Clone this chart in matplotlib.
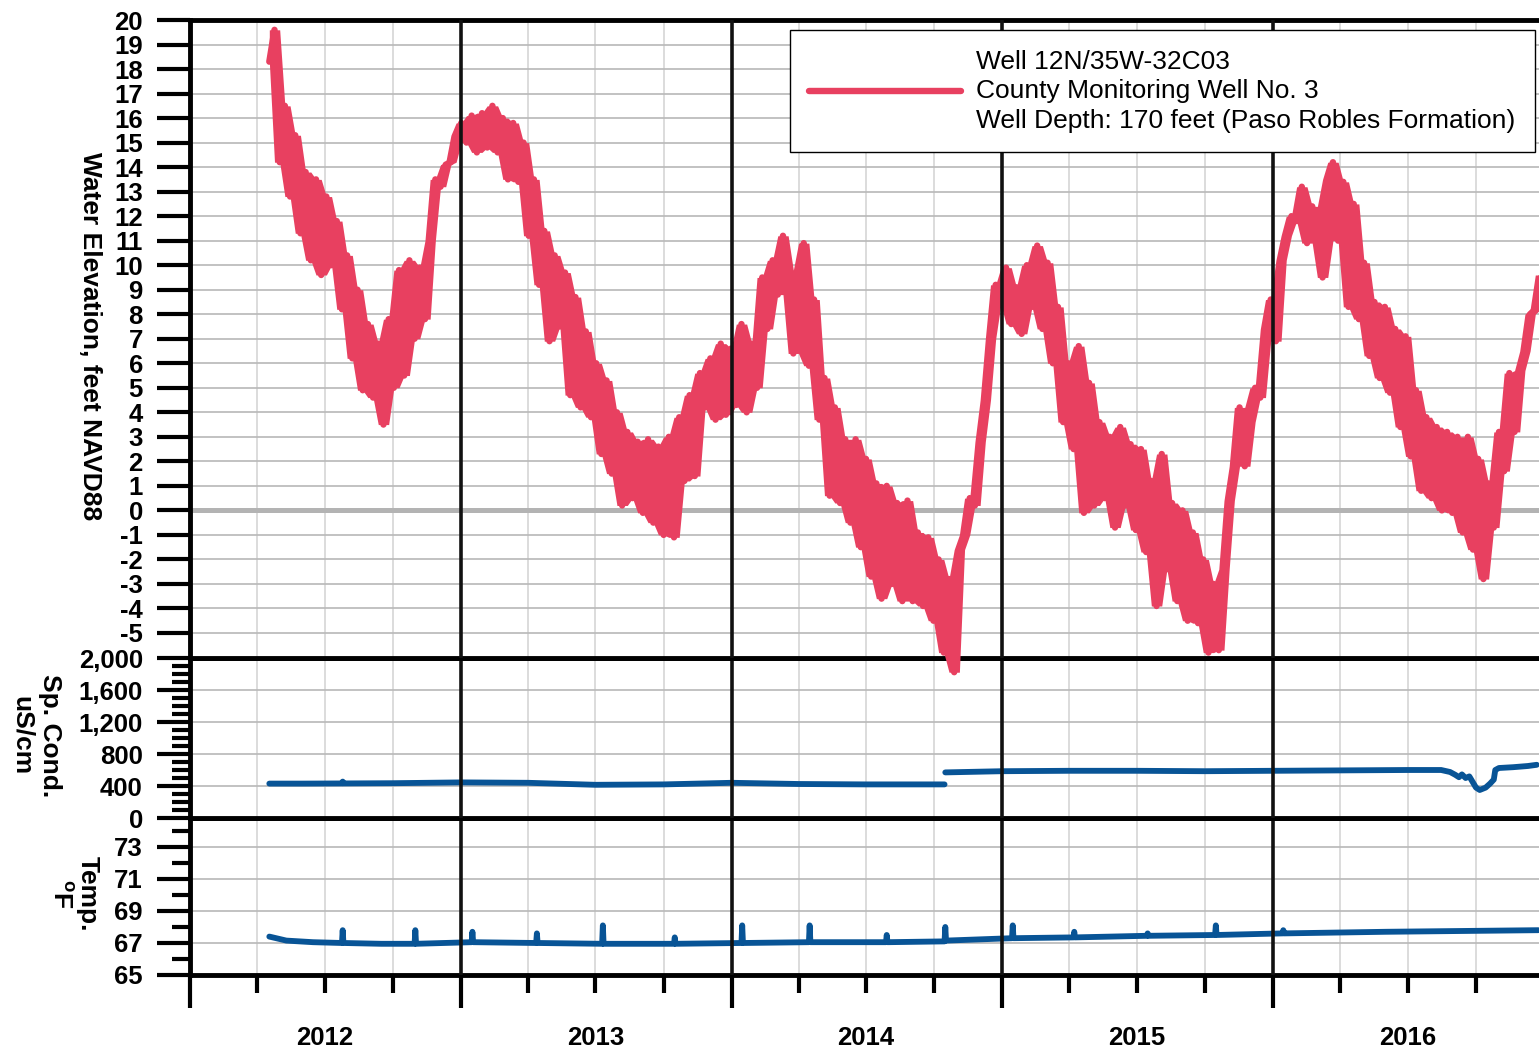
import pandas as pd
import matplotlib
matplotlib.use('Agg')
import matplotlib.pyplot as plt
import matplotlib.dates as mdates
from matplotlib.ticker import MultipleLocator, FixedLocator, FuncFormatter, StrMethodFormatter

plt.rcParams['font.family'] = ['Liberation Sans', 'DejaVu Sans']
plt.rcParams['font.weight'] = 'bold'
plt.rcParams['axes.unicode_minus'] = False
plt.rcParams['mathtext.fontset'] = 'custom'
plt.rcParams['mathtext.default'] = 'bf'
plt.rcParams['mathtext.bf'] = 'Liberation Sans:bold'

# ---------------- data ----------------
# water elevation, weekly readings from 2012-04-17 (feet NAVD88)
water_start = '2012-04-17'
water_ft = [
    18.3, 19.6, 14.2, 16.5, 12.8, 15.3, 11.3, 13.8, 10.2, 13.5,
    9.6, 12.8, 10.0, 11.8, 8.2, 10.4, 6.2, 9.0, 4.9, 7.6,
    4.6, 6.8, 3.5, 7.8, 5.0, 9.8, 5.5, 10.2, 7.0, 9.9,
    7.8, 11.0, 13.5, 13.2, 14.1, 14.2, 15.3, 15.8, 15.0, 16.1,
    14.6, 16.2, 14.8, 16.5, 14.6, 16.0, 13.5, 15.8, 13.4, 15.0,
    11.2, 13.5, 9.2, 11.4, 6.9, 10.4, 7.5, 9.7, 4.7, 8.7,
    4.2, 7.3, 3.8, 6.0, 2.3, 5.3, 1.5, 4.0, 0.2, 3.2,
    0.5, 2.8, -0.1, 2.9, -0.5, 2.6, -1.0, 3.0, -1.1, 3.8,
    1.2, 4.7, 1.4, 5.6, 4.2, 6.2, 3.7, 6.8, 3.9, 6.6,
    4.3, 7.6, 4.0, 6.8, 5.0, 9.5, 7.4, 10.2, 8.8, 11.2,
    9.4, 6.4, 9.8, 10.9, 5.9, 8.6, 3.7, 5.4, 0.6, 4.2,
    0.3, 2.9, -0.5, 2.9, -1.5, 2.1, -2.7, 1.1, -3.6, 1.0,
    -3.0, 0.3, -3.7, 0.4, -3.7, -0.9, -3.9, -1.1, -4.5, -2.0,
    -5.8, -2.8, -6.6, -1.6, -1.0, 0.5, 0.2, 2.8, 4.5, 7.0,
    9.2, 8.4, 9.9, 7.6, 9.1, 7.2, 10.0, 8.3, 10.8, 7.4,
    10.1, 6.0, 8.3, 3.6, 6.0, 2.5, 6.7, -0.1, 5.2, 0.2,
    3.6, 0.5, 3.0, -0.7, 3.4, 0.2, 2.7, -0.8, 2.5, -1.7,
    1.2, -3.9, 2.3, -2.4, 0.3, -3.7, 0.0, -4.5, -0.9, -4.6,
    -2.0, -5.8, -3.0, -5.7, -2.4, 0.4, 1.8, 4.2, 1.8, 3.6,
    5.0, 4.6, 7.4, 8.6, 6.9, 10.2, 11.2, 12.0, 11.8, 13.2,
    10.9, 12.4, 11.3, 9.5, 13.5, 14.2, 11.0, 13.4, 8.3, 12.5,
    7.8, 10.1, 6.3, 8.5, 5.4, 8.3, 4.8, 7.4, 3.4, 7.1,
    2.2, 4.9, 0.8, 3.8, 0.5, 3.4, 0.0, 3.2, -0.1, 3.0,
    -0.9, 3.0, -1.6, 2.1, -2.8, 1.1, -0.7, 3.2, 1.6, 5.6,
    3.2, 5.7, 6.5, 8.0, 8.2, 9.6,
]

# specific conductance, uS/cm (nan = break between sensor records)
cond_dates = ['2012-04-17', '2012-06-01', '2012-07-24', '2012-07-25', '2012-07-26',
              '2012-10-01', '2013-01-01', '2013-04-01', '2013-07-01', '2013-10-01',
              '2014-01-01', '2014-04-01', '2014-07-01', '2014-10-15', '2014-10-15',
              '2014-10-16', '2015-01-01', '2015-04-01', '2015-07-01', '2015-10-01',
              '2016-01-01', '2016-04-01', '2016-07-01', '2016-08-15', '2016-08-27',
              '2016-09-03', '2016-09-08', '2016-09-12', '2016-09-17', '2016-09-22',
              '2016-10-01', '2016-10-06', '2016-10-14', '2016-10-20', '2016-10-25',
              '2016-10-27', '2016-11-01', '2016-11-20', '2016-12-10', '2016-12-22']
cond_us = [430, 430, 432, 455, 432,
           435, 445, 440, 415, 420,
           440, 425, 420, 420, float('nan'),
           570, 585, 590, 590, 585,
           590, 595, 600, 600, 575,
           540, 510, 545, 500, 520,
           380, 350, 380, 430, 480,
           600, 625, 635, 650, 665]

# temperature, deg F
temp_dates = ['2012-04-17', '2012-05-10', '2012-06-15', '2012-07-24', '2012-07-25', '2012-07-26',
              '2012-09-15', '2012-10-30', '2012-10-31', '2012-11-01',
              '2013-01-15', '2013-01-16', '2013-01-17', '2013-04-12', '2013-04-13', '2013-04-14',
              '2013-07-10', '2013-07-11', '2013-07-12', '2013-10-15', '2013-10-16', '2013-10-17',
              '2014-01-14', '2014-01-15', '2014-01-16', '2014-04-15', '2014-04-16', '2014-04-17',
              '2014-07-28', '2014-07-29', '2014-07-30', '2014-10-15', '2014-10-16', '2014-10-17',
              '2015-01-14', '2015-01-15', '2015-01-16', '2015-04-07', '2015-04-08', '2015-04-09',
              '2015-07-15', '2015-07-16', '2015-07-17', '2015-10-15', '2015-10-16', '2015-10-17',
              '2016-01-14', '2016-01-15', '2016-01-16', '2016-06-01', '2016-12-24']
temp_f = [67.4, 67.15, 67.05, 67.0, 67.8, 67.0,
          66.95, 66.95, 67.8, 66.95,
          67.05, 67.7, 67.05, 67.0, 67.6, 67.0,
          66.95, 68.1, 66.95, 66.95, 67.35, 66.95,
          67.0, 68.1, 67.0, 67.05, 68.1, 67.05,
          67.05, 67.5, 67.05, 67.1, 68.0, 67.15,
          67.3, 68.1, 67.3, 67.35, 67.7, 67.35,
          67.45, 67.6, 67.45, 67.5, 68.1, 67.5,
          67.6, 67.8, 67.6, 67.7, 67.8]

legend_label = ('Well 12N/35W-32C03\nCounty Monitoring Well No. 3\n'
                'Well Depth: 170 feet (Paso Robles Formation)')

RED = '#E84060'
BLUE = '#085496'

water_dates = pd.date_range(water_start, periods=len(water_ft), freq='7D')
water_s = pd.Series(water_ft)
# the daily readings scatter densely between these two envelopes
water_hi = water_s.rolling(3, center=True, min_periods=1).max()
water_lo = water_s.rolling(3, center=True, min_periods=1).min()
cond_dt = pd.to_datetime(cond_dates)
temp_dt = pd.to_datetime(temp_dates)

# ---------------- figure ----------------
W, H = 1539, 1052
fig = plt.figure(figsize=(W / 100, H / 100), dpi=100)


def panel(top, bottom, **kw):
    return fig.add_axes([190 / W, 1 - bottom / H, 1 - 190 / W, (bottom - top) / H], **kw)


ax1 = panel(20, 658)
ax2 = panel(658, 818, sharex=ax1)
ax3 = panel(818, 975, sharex=ax1)
ax1.set_zorder(3)
ax2.set_zorder(2)
ax3.set_zorder(1)

ax1.set_xlim(pd.Timestamp('2012-01-01'), pd.Timestamp('2016-12-25'))
ax1.xaxis.set_major_locator(mdates.YearLocator())
ax1.xaxis.set_minor_locator(mdates.MonthLocator(bymonth=[1, 4, 7, 10]))

TICK_FS = 18.5
year_lines = pd.date_range('2013-01-01', '2016-01-01', freq='YS')
for ax in (ax1, ax2, ax3):
    for s in ('left', 'top', 'bottom'):
        ax.spines[s].set_linewidth(3.5)
    ax.spines['right'].set_visible(False)
    ax.set_axisbelow(True)
    ax.grid(which='minor', axis='x', color='#d2d2d2', lw=1.1)
    ax.grid(which='major', axis='y', color='#b8b8b8', lw=1.2)
    for d in year_lines:
        ax.axvline(d, color='#111111', lw=2.6, zorder=4)
    ax.tick_params(axis='y', which='major', length=24, width=3, direction='out',
                   labelsize=TICK_FS, pad=10)
    ax.tick_params(axis='y', which='minor', length=13, width=3, direction='out')

for ax in (ax1, ax2):
    ax.tick_params(axis='x', which='both', length=0, labelbottom=False)

# water elevation
ax1.axhline(0, color='#b3b3b3', lw=3.6, zorder=1)
ax1.fill_between(water_dates, water_lo, water_hi, color=RED, lw=0, zorder=3,
                 clip_on=False)
ax1.plot(water_dates, water_ft, color=RED, lw=4.6, solid_joinstyle='round',
         solid_capstyle='round', clip_on=False, label=legend_label, zorder=3)
ax1.set_ylim(-6.02, 20)
ax1.yaxis.set_major_locator(FixedLocator(range(-5, 21)))

leg = ax1.legend(loc='upper right', bbox_to_anchor=(1 - 4 / 1349, 1 - 10 / 638),
                 prop={'size': 19, 'weight': 'normal'}, frameon=True, fancybox=False,
                 edgecolor='black', framealpha=1, handlelength=5.75, handletextpad=0.57,
                 borderpad=0.74, borderaxespad=0)
leg.get_frame().set_linewidth(1.0)
for t in leg.get_texts():
    t.set_linespacing(1.3)
leg.set_zorder(10)

# conductance
ax2.plot(cond_dt, cond_us, color=BLUE, lw=4.2, solid_capstyle='round',
         solid_joinstyle='round', zorder=3)
ax2.set_ylim(0, 2000)
ax2.yaxis.set_major_locator(MultipleLocator(400))
ax2.yaxis.set_minor_locator(MultipleLocator(100))
ax2.yaxis.set_major_formatter(StrMethodFormatter('{x:,.0f}'))

# temperature
ax3.plot(temp_dt, temp_f, color=BLUE, lw=4.2, solid_capstyle='round',
         solid_joinstyle='round', zorder=3)
ax3.set_ylim(65, 74.81)
ax3.yaxis.set_major_locator(FixedLocator([65, 67, 69, 71, 73]))
ax3.yaxis.set_minor_locator(MultipleLocator(1))


def year_label(x, pos):
    d = mdates.num2date(x)
    return str(d.year) if d.month == 7 else ''


ax3.xaxis.set_minor_formatter(FuncFormatter(year_label))
ax3.xaxis.set_major_formatter(FuncFormatter(lambda x, pos: ''))
ax3.tick_params(axis='x', which='major', length=24, width=3, direction='out')
ax3.tick_params(axis='x', which='minor', length=13, width=3, direction='out',
                labelsize=TICK_FS, pad=24)

# axis titles
fig.text(90 / W, 1 - 336 / H, 'Water Elevation, feet NAVD88', rotation=270,
         ha='center', va='center', fontsize=19, fontweight='bold')
fig.text(36 / W, 1 - 736 / H, 'Sp. Cond.\nuS/cm', rotation=270, ha='center',
         va='center', multialignment='center', fontsize=19, fontweight='bold',
         linespacing=1.25)
fig.text(74 / W, 1 - 894 / H, 'Temp.\n$^{o}$F', rotation=270, ha='center',
         va='center', multialignment='center', fontsize=19, fontweight='bold',
         linespacing=1.2)

fig.savefig('out.png', dpi=100)
